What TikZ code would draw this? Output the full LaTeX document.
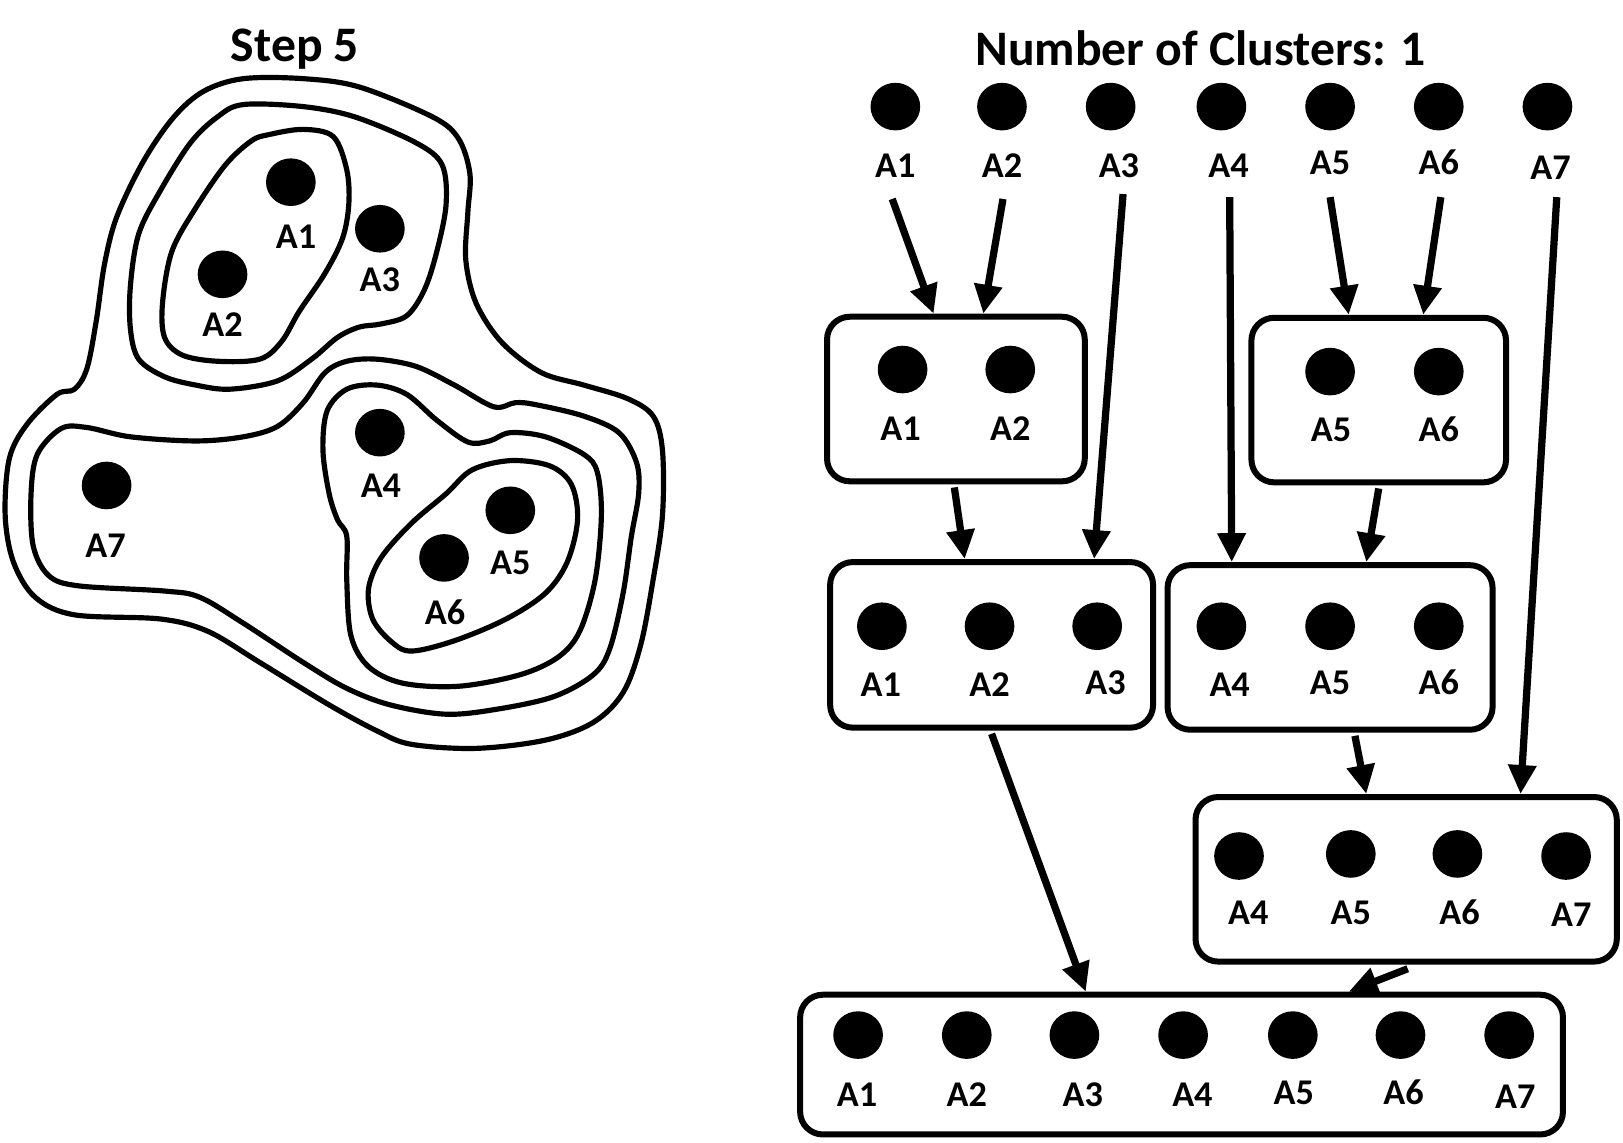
\documentclass[tikz,border=0pt]{standalone}
\usepackage{fontspec}
\setmainfont{Carlito}
\usetikzlibrary{shapes.geometric,arrows.meta}
\begin{document}
\begin{tikzpicture}[x=1pt,y=-1pt,
  dot/.style={ellipse,fill=black,minimum width=48pt,minimum height=46pt,inner sep=0pt},
  lab/.style={inner sep=0pt,text height=22.5pt,text depth=0pt,font=\fontsize{35}{35}\selectfont\bfseries},
  ttl/.style={inner sep=0pt,font=\fontsize{48}{48}\selectfont\bfseries},
  grp/.style={draw,line width=5.8pt,rounded corners=22pt,inner sep=0pt},
  arr/.style={line width=7pt,-{Triangle[length=28pt,width=26pt]}},
  contour/.style={line width=5pt,line join=round}]
\useasboundingbox (0,0) rectangle (1568,1104);
% titles
\node[ttl] (t1) at (285,47) {Step 5};
\node[ttl] (t2) at (1160,47) {Number of Clusters: 1};
% ---------- left: nested clusters ----------
\draw[contour] plot[smooth cycle,tension=0.55] coordinates {(260,130) (293,125) (322,132) (335,164) (337,197) (331,230) (314,264) (289,301) (272,330) (251,347) (210,349) (176,343) (159,326) (157,293) (166,243) (189,201) (218,159) (243,136)};
\draw[contour] plot[smooth cycle,tension=0.55] coordinates {(235,101) (293,103) (343,113) (402,138) (427,159) (431,197) (422,243) (410,280) (393,305) (368,313) (347,316) (326,326) (301,347) (268,368) (222,376) (189,372) (159,364) (134,347) (126,318) (126,276) (134,226) (155,184) (184,138) (210,113)};
\draw[contour] plot[smooth cycle,tension=0.55] coordinates {(335,376) (364,372) (393,381) (422,406) (452,427) (473,426) (493,418) (527,422) (564,439) (577,456) (581,498) (575,560) (560,610) (539,635) (502,652) (443,663) (389,660) (356,644) (339,614) (335,560) (335,518) (326,502) (318,477) (312,435) (316,397)};
\draw[contour] plot[smooth cycle,tension=0.55] coordinates {(456,454) (493,445) (531,450) (552,468) (558,502) (548,543) (527,573) (489,598) (439,619) (397,629) (377,619) (360,598) (356,569) (368,539) (397,506) (431,477)};
\draw[contour] plot[smooth cycle,tension=0.55] coordinates {(59,414) (84,413) (126,422) (189,426) (235,422) (268,412) (293,389) (314,360) (335,349) (364,347) (402,354) (439,372) (477,393) (498,389) (518,391) (564,402) (598,418) (615,447) (617,477) (610,518) (602,573) (589,627) (573,652) (535,673) (481,685) (431,690) (377,681) (335,665) (293,640) (235,602) (193,577) (159,571) (76,566) (47,556) (32,527) (30,477) (36,439)};
\draw[contour] plot[smooth cycle,tension=0.55] coordinates {(235,76) (293,76) (347,84) (418,113) (443,134) (454,168) (452,205) (450,251) (460,293) (485,331) (523,360) (564,372) (606,385) (631,402) (640,435) (640,498) (631,560) (619,623) (602,669) (573,698) (527,715) (460,723) (397,719) (364,706) (318,681) (251,640) (201,610) (155,598) (72,594) (34,577) (13,543) (5,498) (9,443) (26,410) (55,381) (72,376) (84,356) (93,310) (101,255) (113,209) (139,155) (168,113) (197,88)};
\node[dot] (lA1) at (281,176) {};
\node[dot] (lA3) at (367,221) {};
\node[dot] (lA2) at (215,265) {};
\node[dot] (lA4) at (367,418) {};
\node[dot] (lA7) at (103,469) {};
\node[dot] (lA5) at (493,493) {};
\node[dot] (lA6) at (429,539) {};
\node[lab] (llA1) at (286,229) {A1};
\node[lab] (llA3) at (367,270) {A3};
\node[lab] (llA2) at (215,314) {A2};
\node[lab] (llA4) at (368,469) {A4};
\node[lab] (llA7) at (102,527) {A7};
\node[lab] (llA5) at (493,544) {A5};
\node[lab] (llA6) at (430,592) {A6};
% ---------- right: dendrogram of boxes ----------
% top row
\node[dot] (dA1) at (865,103) {};
\node[dot] (dA2) at (968,103) {};
\node[dot] (dA3) at (1073,103) {};
\node[dot] (dA4) at (1180,103) {};
\node[dot] (dA5) at (1285,103) {};
\node[dot] (dA6) at (1390,103) {};
\node[dot] (dA7) at (1495,103) {};
\node[lab] (tA1) at (865,160) {A1};
\node[lab] (tA2) at (968,160) {A2};
\node[lab] (tA3) at (1081,160) {A3};
\node[lab] (tA4) at (1187,160) {A4};
\node[lab] (tA5) at (1285,157) {A5};
\node[lab] (tA6) at (1390,157) {A6};
\node[lab] (tA7) at (1498,162) {A7};
% boxes
\node[grp,minimum width=249pt,minimum height=159pt] (b1) at (923.5,385.5) {};
\node[grp,minimum width=246pt,minimum height=159pt] (b2) at (1332,386.5) {};
\node[grp,minimum width=312pt,minimum height=160pt] (b3) at (958,623) {};
\node[grp,minimum width=314pt,minimum height=159pt] (b4) at (1285,625.5) {};
\node[grp,minimum width=407pt,minimum height=159pt] (b5) at (1358.5,849.5) {};
\node[grp,minimum width=737pt,minimum height=135pt] (b6) at (1141.5,1028.5) {};
% box 1
\node[dot] (b1d1) at (872,357) {};
\node[dot] (b1d2) at (976,357) {};
\node[lab] at (870,414) {A1};
\node[lab] at (976,414) {A2};
% box 2
\node[dot] (b2d5) at (1285,359) {};
\node[dot] (b2d6) at (1390,359) {};
\node[lab] at (1286,415) {A5};
\node[lab] at (1390,415) {A6};
% box 3
\node[dot] (b3d1) at (852,605) {};
\node[dot] (b3d2) at (956,605) {};
\node[dot] (b3d3) at (1060,605) {};
\node[lab] at (851,662) {A1};
\node[lab] at (956,662) {A2};
\node[lab] at (1068,660) {A3};
% box 4
\node[dot] (b4d4) at (1180,605) {};
\node[dot] (b4d5) at (1285,605) {};
\node[dot] (b4d6) at (1390,605) {};
\node[lab] at (1188,662) {A4};
\node[lab] at (1285,660) {A5};
\node[lab] at (1390,660) {A6};
% box 5
\node[dot] (b5d4) at (1197,827) {};
\node[dot] (b5d5) at (1305,825) {};
\node[dot] (b5d6) at (1408,825) {};
\node[dot] (b5d7) at (1513,827) {};
\node[lab] at (1206,882) {A4};
\node[lab] at (1305,882) {A5};
\node[lab] at (1410,882) {A6};
\node[lab] at (1518,884) {A7};
% box 6
\foreach \x/\n in {829/1,934/2,1038/3,1143/4,1249/5,1353/6,1458/7}
  \node[dot] (b6d\n) at (\x,1000) {};
\node[lab] at (828,1058) {A1};
\node[lab] at (934,1058) {A2};
\node[lab] at (1046,1058) {A3};
\node[lab] at (1152,1058) {A4};
\node[lab] at (1250,1056) {A5};
\node[lab] at (1356,1056) {A6};
\node[lab] at (1464,1060) {A7};
% arrows
\draw[arr] ([xshift=-3pt,yshift=-20.75pt]tA1.south) -- ([xshift=-21.5pt]b1.north);
\draw[arr] ([xshift=1pt,yshift=-20.75pt]tA2.south) -- ([xshift=26.5pt]b1.north);
\draw[arr] ([xshift=4pt,yshift=-16pt]tA3.south) -- ([xshift=99pt]b3.north);
\draw[arr] ([xshift=1pt,yshift=-19pt]tA4.south) -- ([xshift=-95pt]b4.north);
\draw[arr] ([yshift=-22pt]tA5.south) -- ([xshift=-29pt]b2.north);
\draw[arr] ([xshift=2pt,yshift=-22pt]tA6.south) -- ([xshift=43pt]b2.north);
\draw[arr] ([xshift=6pt,yshift=-17pt]tA7.south) -- ([xshift=110.5pt]b5.north);
\draw[arr] ([xshift=-1.5pt,yshift=-3pt]b1.south) -- ([xshift=-26pt]b3.north);
\draw[arr] ([yshift=-3pt]b2.south) -- ([xshift=35pt]b4.north);
\draw[arr] ([yshift=-3pt]b3.south) -- ([xshift=-92.5pt]b6.north);
\draw[arr] ([xshift=24pt,yshift=-3pt]b4.south) -- ([xshift=-38.5pt]b5.north);
\draw[arr] ([xshift=1.5pt,yshift=-4pt]b5.south) -- ([xshift=161.5pt]b6.north);
\end{tikzpicture}
\end{document}
